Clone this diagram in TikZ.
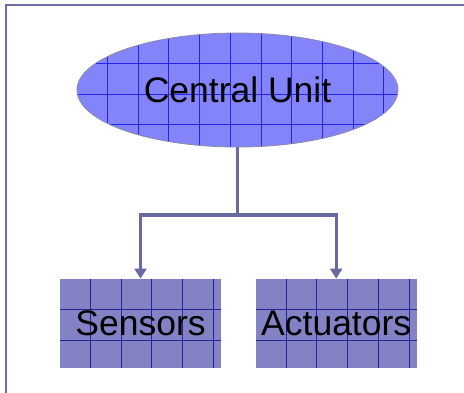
\documentclass[tikz,border=0pt]{standalone}
\usepackage{fontspec}
\setmainfont{Liberation Sans}
\usetikzlibrary{arrows.meta,shapes.geometric,calc}

\definecolor{framecol}{HTML}{6C6CA6}
\definecolor{linkcol}{HTML}{6A6AA2}
\definecolor{unitfill}{HTML}{8484FA}
\definecolor{unitgrid}{HTML}{2424F0}
\definecolor{boxfill}{HTML}{8282C4}
\definecolor{boxgrid}{HTML}{242496}
\definecolor{unitedge}{HTML}{8A8AA8}

\tikzset{
  label font/.style={font=\fontsize{35.5pt}{40pt}\selectfont},
  unit/.style={ellipse, fill=unitfill, minimum width=321pt, minimum height=114pt,
    inner sep=0pt, label font},
  unit text/.style={ellipse, draw=unitedge, line width=0.8pt, minimum width=321pt,
    minimum height=114pt, inner sep=0pt, label font},
  part/.style={rectangle, fill=boxfill, minimum width=161pt, minimum height=89pt,
    inner sep=0pt, label font},
  gridline/.style={draw=#1, line width=0.9pt},
  link/.style={draw=linkcol, line width=3.2pt},
  linkarrow/.style={link, -{Triangle[width=12pt,length=10pt]}},
  framebar/.style={draw=framecol, line width=2.5pt}
}

\begin{document}
\begin{tikzpicture}[x=1pt, y=-1pt]
  \useasboundingbox (0,0) rectangle (464,392);

  % page frame along the top and left
  \coordinate (fr) at (470,5.2);
  \coordinate (fc) at (6,5.2);
  \coordinate (fb) at (6,400);
  \draw[framebar] (fr) -- (fc) -- (fb);

  % filled shapes
  \node[unit] (cufill) at (237.5,90) {};
  \node[part] (senfill) at (140.5,323.3) {};
  \node[part] (actfill) at (336.2,323.3) {};

  % grid inside the ellipse
  \begin{scope}
    \clip (237.5,90) ellipse [x radius=160.5pt, y radius=57pt];
    \coordinate (cunw) at (cufill.west |- cufill.north);
    \foreach \i in {1,...,10}
      \draw[gridline=unitgrid] ($(cunw)+(\i*30.7,0)$) -- ++(0,114);
    \foreach \j in {1,...,3}
      \draw[gridline=unitgrid] ($(cunw)+(0,\j*30.7)$) -- ++(321,0);
  \end{scope}

  % grids inside the two boxes
  \foreach \b in {senfill,actfill} {
    \begin{scope}
      \clip (\b.north west) rectangle (\b.south east);
      \foreach \i in {1,...,5}
        \draw[gridline=boxgrid] ($(\b.north west)+(\i*30.7,0)$) -- ++(0,89);
      \foreach \j in {1,2}
        \draw[gridline=boxgrid] ($(\b.north west)+(0,\j*30.7)$) -- ++(161,0);
    \end{scope}
  }

  % labelled nodes on top
  \node[unit text] (cu) at (237.5,90) {Central Unit};
  \node[part, fill=none] (sen) at (140.5,323.3) {Sensors};
  \node[part, fill=none] (act) at (336.2,323.3) {Actuators};

  % connectors
  \coordinate (split) at (237.5,215);
  \draw[link] (cu.south) -- (split);
  \draw[linkarrow] (split) -| (sen.north);
  \draw[linkarrow] (split) -| (act.north);
\end{tikzpicture}
\end{document}
